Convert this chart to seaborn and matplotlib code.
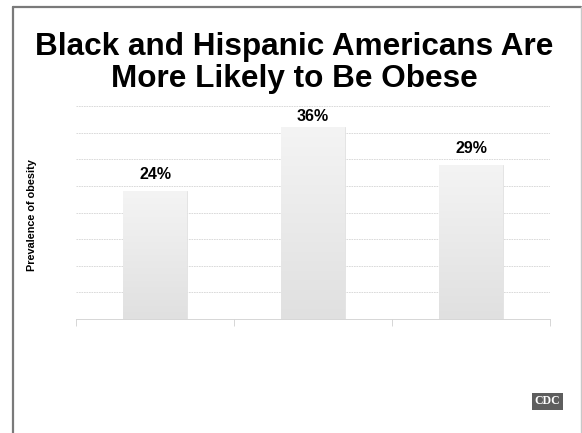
import numpy as np
import pandas as pd
import matplotlib
matplotlib.use("Agg")
import matplotlib.pyplot as plt
import seaborn as sns
from matplotlib.lines import Line2D

groups = ["White", "Black", "Hispanic"]
prevalence = [24, 36, 29]
value_labels = ["24%", "36%", "29%"]
title = "Black and Hispanic Americans Are\nMore Likely to Be Obese"
ylabel = "Prevalence of obesity"
label_gap = [3.2, 2.1, 3.0]  # label offsets above bars (style)

sns.set_theme(style="white")
plt.rcParams['font.family'] = ['Liberation Sans', 'DejaVu Sans']

W, H = 582, 433
fig = plt.figure(figsize=(W / 100, H / 100), dpi=100)
fig.patch.set_facecolor("white")

# plot area: x 76..550, y 106..319 (pixels from top)
ax = fig.add_axes([76 / W, 1 - 319 / H, (550 - 76) / W, (319 - 106) / H])

df = pd.DataFrame({"group": groups, "value": prevalence})
sns.barplot(data=df, x="group", y="value", ax=ax, color="#e8e8e8",
            width=0.4, edgecolor="#e2e2e2", linewidth=0.6, saturation=1)

ax.set_ylim(0, 40)
ax.set_xlim(-0.5, 2.5)
ax.set_yticks(np.arange(0, 41, 5))
ax.yaxis.grid(True, color="#d4d4d4", linewidth=0.6, linestyle=(0, (2, 1)))
ax.set_axisbelow(True)
ax.set_yticklabels([])
ax.tick_params(axis="y", length=0, left=False)
ax.set_xticks([-0.5, 0.5, 1.5, 2.5])
ax.set_xticklabels([])
ax.tick_params(axis="x", bottom=True, length=5, color="#d0d0d0", width=0.6,
               direction="out")
for s in ["top", "right"]:
    ax.spines[s].set_visible(False)
ax.spines["left"].set_visible(False)
ax.spines["bottom"].set_color("#d0d0d0")
ax.spines["bottom"].set_linewidth(0.6)
ax.set_xlabel("")
ax.set_ylabel("")

# gradient fill for bars
grad = np.linspace(0, 1, 256).reshape(-1, 1)
cmap = matplotlib.colors.LinearSegmentedColormap.from_list("g", ["#e0e0e0", "#f4f4f4"])
for patch in ax.patches:
    x0, y0 = patch.get_x(), patch.get_y()
    w, h = patch.get_width(), patch.get_height()
    im = ax.imshow(grad, extent=[x0, x0 + w, y0, y0 + h], origin="lower",
                   cmap=cmap, aspect="auto", zorder=patch.get_zorder() + 0.1)
    im.set_clip_path(patch)
ax.set_xlim(-0.5, 2.5)
ax.set_ylim(0, 40)

for i, (v, lab, g) in enumerate(zip(prevalence, value_labels, label_gap)):
    ax.text(i, v + g, lab, ha="center", va="center", fontsize=11.5,
            fontweight="bold", color="black", clip_on=False)

fig.text(32 / W, 1 - 215 / H, ylabel, rotation=90, ha="center", va="center",
         fontsize=7.8, fontweight="bold", color="black")

fig.text(294 / W, 1 - 63 / H, title, ha="center", va="center",
         fontsize=22.7, fontweight="bold", color="black", linespacing=1.05)

# slide frame
fig.add_artist(Line2D([12.5 / W, 12.5 / W], [0, 1 - 6.5 / H], transform=fig.transFigure,
                      color="#7a7a7a", linewidth=1.6))
fig.add_artist(Line2D([12.5 / W, 580.5 / W], [1 - 6.5 / H, 1 - 6.5 / H],
                      transform=fig.transFigure, color="#7a7a7a", linewidth=1.6))
fig.add_artist(Line2D([580.5 / W, 580.5 / W], [0, 1 - 6.5 / H], transform=fig.transFigure,
                      color="#c8c8c8", linewidth=1.0))

# CDC logo
fig.text(547.5 / W, 1 - 401.5 / H, "CDC", ha="center", va="center", fontsize=8.5,
         fontweight="bold", color="white", family=["Liberation Serif", "DejaVu Serif"],
         bbox=dict(boxstyle="square,pad=0.22", facecolor="#5e5e5e", edgecolor="none"))

fig.savefig("out.png", dpi=100, facecolor="white")
